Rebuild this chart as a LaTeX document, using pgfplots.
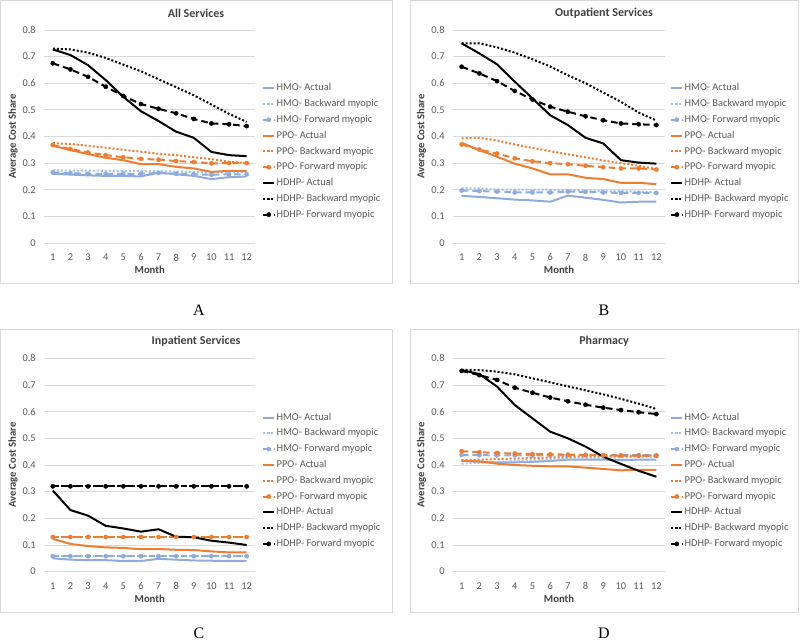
\documentclass[border=0pt]{standalone}
\usepackage{pgfplots}
\pgfplotsset{compat=1.18}
\usepackage{pgfplotstable}
\usepackage{fontspec}
\setmainfont{Carlito}
\newfontfamily\timesfont{Liberation Serif}

\definecolor{hmo}{HTML}{8FAADC}
\definecolor{hmob}{HTML}{9DC3E6}
\definecolor{ppo}{HTML}{ED7D31}
\definecolor{txt}{HTML}{595959}
\definecolor{ttl}{HTML}{404040}
\definecolor{gridc}{HTML}{D9D9D9}
\definecolor{framec}{HTML}{D9D9D9}

% m hA hB hF pA pB pF dA dB dF
\pgfplotstableread{
m hA hB hF pA pB pF dA dB dF
1 0.260 0.273 0.265 0.365 0.375 0.368 0.727 0.730 0.675
2 0.257 0.272 0.262 0.349 0.372 0.353 0.706 0.727 0.652
3 0.254 0.272 0.260 0.334 0.365 0.340 0.668 0.715 0.624
4 0.252 0.271 0.260 0.320 0.358 0.330 0.612 0.695 0.587
5 0.252 0.270 0.260 0.311 0.350 0.322 0.549 0.670 0.552
6 0.250 0.270 0.260 0.296 0.343 0.316 0.495 0.645 0.522
7 0.264 0.270 0.263 0.296 0.335 0.313 0.458 0.615 0.504
8 0.258 0.268 0.260 0.286 0.330 0.308 0.418 0.585 0.487
9 0.252 0.267 0.258 0.280 0.322 0.304 0.395 0.555 0.466
10 0.240 0.265 0.256 0.267 0.315 0.299 0.342 0.520 0.449
11 0.247 0.265 0.258 0.271 0.305 0.300 0.330 0.485 0.446
12 0.250 0.265 0.258 0.270 0.300 0.300 0.326 0.455 0.439
}\tabA
\pgfplotstableread{
m hA hB hF pA pB pF dA dB dF
1 0.177 0.205 0.197 0.376 0.393 0.370 0.750 0.750 0.662
2 0.173 0.205 0.195 0.349 0.395 0.351 0.712 0.750 0.637
3 0.168 0.201 0.193 0.324 0.385 0.336 0.671 0.735 0.608
4 0.163 0.200 0.190 0.298 0.370 0.318 0.606 0.715 0.571
5 0.160 0.200 0.190 0.280 0.357 0.307 0.543 0.690 0.539
6 0.155 0.200 0.190 0.258 0.345 0.300 0.480 0.663 0.512
7 0.178 0.198 0.193 0.258 0.333 0.296 0.443 0.630 0.493
8 0.170 0.198 0.192 0.245 0.322 0.290 0.395 0.600 0.476
9 0.162 0.195 0.190 0.240 0.310 0.285 0.374 0.565 0.461
10 0.152 0.195 0.188 0.226 0.300 0.280 0.311 0.530 0.449
11 0.155 0.193 0.188 0.226 0.290 0.280 0.302 0.490 0.446
12 0.155 0.190 0.188 0.221 0.278 0.276 0.298 0.460 0.443
}\tabB
\pgfplotstableread{
m hA hB hF pA pB pF dA dB dF
1 0.050 0.058 0.058 0.123 0.130 0.130 0.304 0.322 0.320
2 0.045 0.058 0.058 0.104 0.130 0.130 0.231 0.322 0.320
3 0.043 0.058 0.058 0.096 0.130 0.130 0.210 0.322 0.320
4 0.043 0.058 0.058 0.091 0.130 0.130 0.172 0.322 0.320
5 0.040 0.058 0.058 0.089 0.130 0.130 0.162 0.322 0.320
6 0.040 0.058 0.058 0.084 0.130 0.130 0.150 0.322 0.320
7 0.048 0.058 0.058 0.085 0.130 0.130 0.159 0.322 0.320
8 0.045 0.058 0.058 0.082 0.130 0.130 0.131 0.322 0.320
9 0.042 0.058 0.058 0.081 0.130 0.130 0.129 0.322 0.320
10 0.041 0.058 0.058 0.076 0.130 0.130 0.116 0.322 0.320
11 0.040 0.058 0.058 0.072 0.130 0.130 0.109 0.322 0.320
12 0.040 0.058 0.058 0.072 0.130 0.130 0.100 0.322 0.320
}\tabC
\pgfplotstableread{
m hA hB hF pA pB pF dA dB dF
1 0.415 0.405 0.438 0.416 0.418 0.452 0.756 0.757 0.753
2 0.413 0.408 0.437 0.413 0.420 0.448 0.741 0.756 0.737
3 0.410 0.412 0.436 0.405 0.422 0.445 0.694 0.750 0.719
4 0.410 0.415 0.436 0.400 0.424 0.443 0.625 0.740 0.690
5 0.412 0.418 0.436 0.397 0.426 0.441 0.575 0.725 0.671
6 0.415 0.420 0.436 0.395 0.428 0.440 0.525 0.710 0.653
7 0.420 0.423 0.437 0.395 0.430 0.439 0.500 0.695 0.639
8 0.420 0.425 0.437 0.390 0.432 0.438 0.469 0.680 0.626
9 0.420 0.427 0.437 0.385 0.433 0.437 0.431 0.665 0.615
10 0.418 0.428 0.437 0.380 0.434 0.435 0.404 0.648 0.606
11 0.420 0.430 0.437 0.382 0.435 0.435 0.378 0.630 0.598
12 0.420 0.432 0.437 0.382 0.436 0.434 0.356 0.610 0.591
}\tabD

\pgfplotsset{
  actual/.style={line width=1.5pt, solid, mark=none},
  back/.style={line width=1.5pt, dash pattern=on 1.5pt off 1.5pt, mark=none},
  fwd/.style={line width=1.5pt, dash pattern=on 5pt off 3pt, mark=*, mark size=1.6pt, mark options={solid, line width=0.3pt}},
  every axis title shift=0pt,
  panel/.style={
    scale only axis, height=159.75pt,
    xmin=0.5, xmax=12.5, ymin=0, ymax=0.8,
    xtick={1,2,3,4,5,6,7,8,9,10,11,12},
    xticklabels={1,2,3,4,5,6,7,8,9,10,11,12},
    ytick={0,0.1,0.2,0.3,0.4,0.5,0.6,0.7,0.8},
    yticklabels={0,0.1,0.2,0.3,0.4,0.5,0.6,0.7,0.8},
    axis line style={draw=none},
    major tick length=0pt,
    ymajorgrids, grid style={gridc, line width=0.6pt},
    tick label style={font=\fontsize{7.8}{9}\selectfont, text=txt},
    yticklabel style={anchor=east, inner sep=0pt, xshift=-6pt},
    xticklabel style={anchor=north, inner sep=0pt, yshift=-8pt},
    ylabel={Average Cost Share},
    xlabel={Month},
    ylabel style={at={(axis description cs:-0.147,0.5)}, anchor=center, font=\bfseries\fontsize{8}{9}\selectfont, text=ttl},
    xlabel style={at={(axis description cs:0.5,-0.127)}, anchor=center, font=\bfseries\fontsize{8}{9}\selectfont, text=ttl},
    title style={anchor=center, font=\bfseries\fontsize{9}{11}\selectfont, text=ttl},
    legend cell align=left,
    legend style={draw=none, fill=none, anchor=north west, inner sep=0pt,
      row sep=2.85pt,
      nodes={inner sep=0.5pt, text height=6pt, text depth=2pt, font=\fontsize{7.8}{9}\selectfont, text=txt},
      /tikz/every odd column/.append style={column sep=0.5pt}},
    legend image code/.code={\draw[mark repeat=2,mark phase=2,##1] plot coordinates {(0pt,0pt) (4.1pt,0pt) (8.25pt,0pt)};},
  }
}

\newcommand{\nineseries}[1]{%
  \addplot[color=hmo, actual] table[x=m,y=hA]{#1}; \addlegendentry{HMO- Actual}
  \addplot[color=hmob, back] table[x=m,y=hB]{#1}; \addlegendentry{HMO- Backward myopic}
  \addplot[color=hmo, fwd] table[x=m,y=hF]{#1}; \addlegendentry{HMO- Forward myopic}
  \addplot[color=ppo, actual] table[x=m,y=pA]{#1}; \addlegendentry{PPO- Actual}
  \addplot[color=ppo, back] table[x=m,y=pB]{#1}; \addlegendentry{PPO- Backward myopic}
  \addplot[color=ppo, fwd] table[x=m,y=pF]{#1}; \addlegendentry{PPO- Forward myopic}
  \addplot[color=black, actual] table[x=m,y=dA]{#1}; \addlegendentry{HDHP- Actual}
  \addplot[color=black, back] table[x=m,y=dB]{#1}; \addlegendentry{HDHP- Backward myopic}
  \addplot[color=black, fwd] table[x=m,y=dF]{#1}; \addlegendentry{HDHP- Forward myopic}
}

\begin{document}
\begin{tikzpicture}
\useasboundingbox (0,0) rectangle (600pt,480.75pt);
% panel frames
\draw[framec, line width=0.6pt] (0.5pt,480.25pt) rectangle (294pt,268.5pt);
\draw[framec, line width=0.6pt] (307.5pt,480.25pt) rectangle (598.5pt,268.5pt);
\draw[framec, line width=0.6pt] (0.5pt,234pt) rectangle (294pt,21.2pt);
\draw[framec, line width=0.6pt] (307.5pt,234pt) rectangle (598.5pt,21.2pt);

\begin{axis}[panel, width=158.6pt, at={(33pt,298.5pt)}, anchor=south west,
  title={All Services}, title style={at={(axis description cs:0.719,1.08)}},
  legend style={at={(axis description cs:1.031,0.756)}}]
\nineseries{\tabA}
\end{axis}

\begin{axis}[panel, width=159.3pt, at={(339.6pt,298.5pt)}, anchor=south west,
  title={Outpatient Services}, title style={at={(axis description cs:0.712,1.08)}},
  legend style={at={(axis description cs:1.023,0.756)}}]
\nineseries{\tabB}
\end{axis}

\begin{axis}[panel, width=158.6pt, height=160pt, at={(33pt,52pt)}, anchor=south west,
  title={Inpatient Services}, title style={at={(axis description cs:0.719,1.078)}},
  legend style={at={(axis description cs:1.031,0.752)}}]
\nineseries{\tabC}
\end{axis}

\begin{axis}[panel, width=159.3pt, height=160pt, at={(339.6pt,52pt)}, anchor=south west,
  title={Pharmacy}, title style={at={(axis description cs:0.712,1.078)}},
  legend style={at={(axis description cs:1.023,0.752)}}]
\nineseries{\tabD}
\end{axis}

\node[anchor=base, font=\timesfont\fontsize{12}{14}\selectfont] at (149.25pt,244.1pt) {A};
\node[anchor=base, font=\timesfont\fontsize{12}{14}\selectfont] at (453pt,244.1pt) {B};
\node[anchor=base, font=\timesfont\fontsize{12}{14}\selectfont] at (149.25pt,1.9pt) {C};
\node[anchor=base, font=\timesfont\fontsize{12}{14}\selectfont] at (453pt,1.9pt) {D};
\end{tikzpicture}
\end{document}
